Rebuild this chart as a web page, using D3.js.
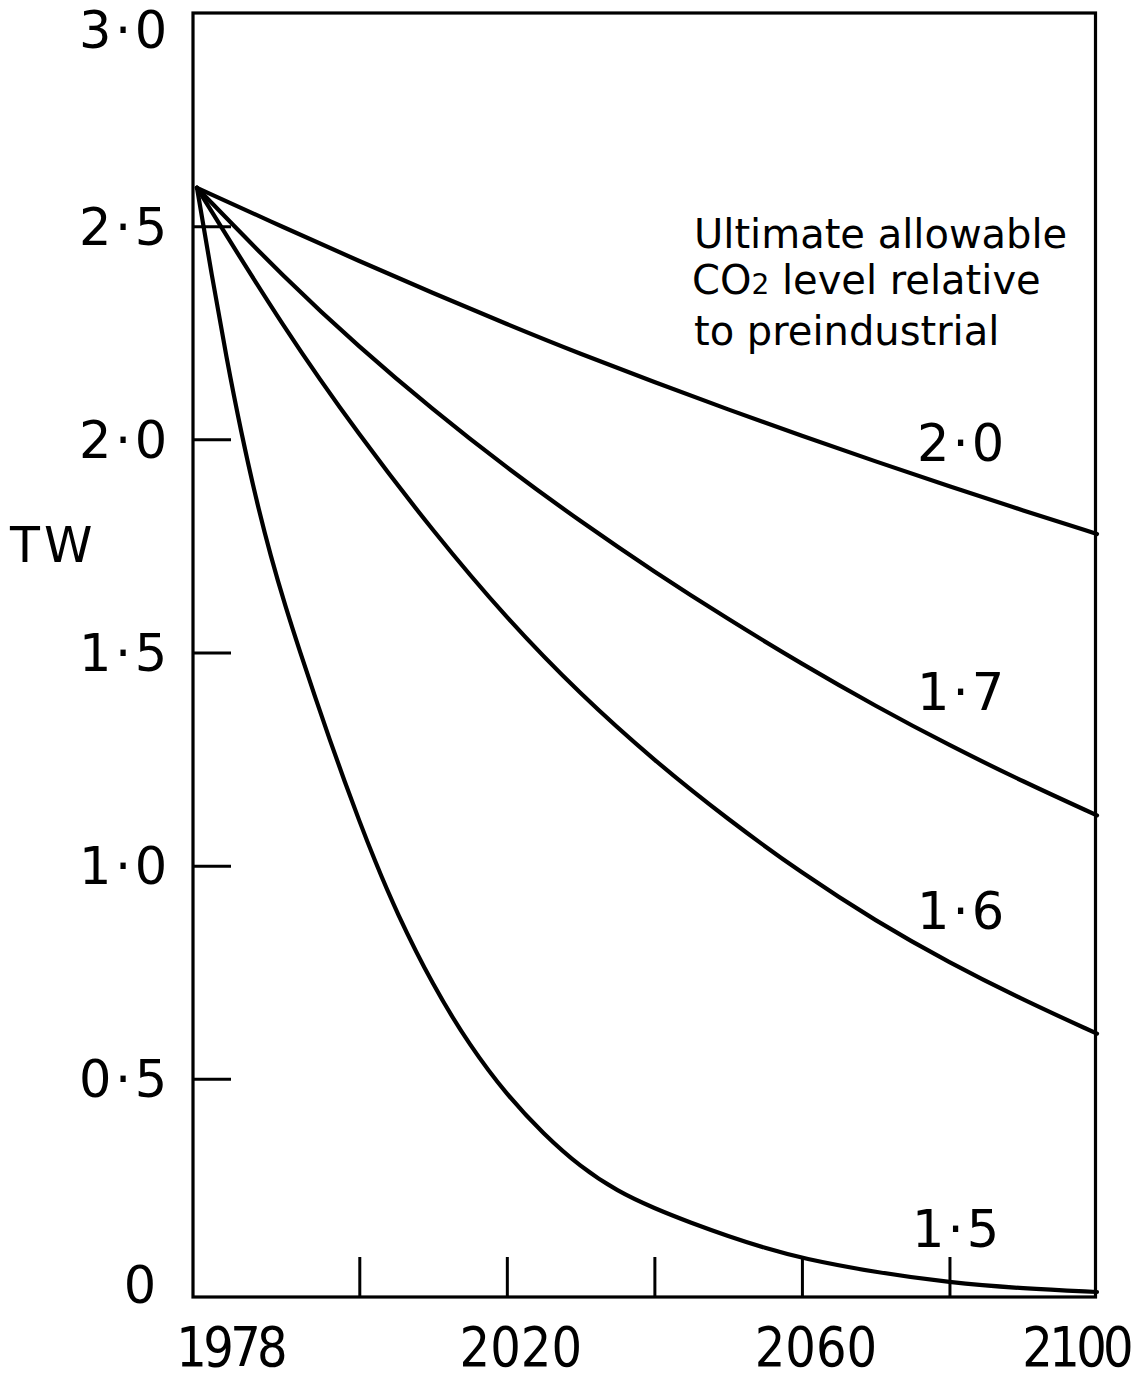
<!DOCTYPE html>
<html>
<head>
<meta charset="utf-8">
<script src="https://cdn.jsdelivr.net/npm/d3@7"></script>
<style>
  html, body { margin: 0; padding: 0; background: #fff; }
  svg { display: block; }
  text { font-family: "DejaVu Sans", "Liberation Sans", sans-serif; fill: #000; }
</style>
</head>
<body>
<svg id="chart" width="1147" height="1381"></svg>
<script>
// ---------------- data ----------------
const yTickValues = [0, 0.5, 1.0, 1.5, 2.0, 2.5, 3.0];
const yTickLabels = ["0", "0·5", "1·0", "1·5", "2·0", "2·5", "3·0"];
const xTickValues = [2000, 2020, 2040, 2060, 2080];
const xLabelYears = [1978, 2020, 2060, 2100];
const yAxisTitle = "TW";
const noteLine1 = "Ultimate allowable";
const noteLine2a = "CO";
const noteLine2sub = "2";
const noteLine2b = " level relative";
const noteLine3 = "to preindustrial";
const seriesNames = ["2·0", "1·7", "1·6", "1·5"];

const years20 = [1978, 1990, 2000, 2010, 2020, 2030, 2040, 2050, 2060, 2070, 2080, 2090, 2100];
const tw20    = [2.59, 2.495, 2.418, 2.343, 2.27, 2.20, 2.134, 2.07, 2.008, 1.948, 1.89, 1.833, 1.778];

const years17 = [1978, 1990, 2000, 2010, 2020, 2030, 2040, 2050, 2060, 2070, 2080, 2090, 2100];
const tw17    = [2.59, 2.376, 2.216, 2.069, 1.933, 1.807, 1.689, 1.578, 1.473, 1.374, 1.282, 1.197, 1.118];

const years16 = [1978, 1990, 2000, 2010, 2020, 2030, 2040, 2050, 2060, 2070, 2080, 2090, 2100];
const tw16    = [2.59, 2.254, 2.009, 1.784, 1.579, 1.401, 1.246, 1.108, 0.982, 0.870, 0.772, 0.685, 0.606];

const years15 = [1978, 1980, 1982, 1984, 1986, 1988, 1990, 1992, 1994, 1996, 1998, 2000, 2002, 2005, 2010, 2015, 2020, 2025, 2030, 2035, 2040, 2045, 2050, 2055, 2060, 2070, 2080, 2090, 2100];
const tw15    = [2.59, 2.385, 2.19, 2.015, 1.86, 1.725, 1.607, 1.50, 1.396, 1.295, 1.198, 1.105, 1.016, 0.892, 0.718, 0.577, 0.462, 0.37, 0.293, 0.236, 0.196, 0.162, 0.131, 0.103, 0.079, 0.046, 0.022, 0.008, 0.0];

// ---------------- layout ----------------
const svg = d3.select("#chart");
const frame = { left: 193, right: 1095.5, top: 13, bottom: 1297 };
const x = d3.scaleLinear().domain([1978, 2100]).range([197, 1097]);
const y = d3.scaleLinear().domain([0, 3]).range([1292, 13]);

const series = [
  { name: seriesNames[0], years: years20, vals: tw20, lift: 26 },
  { name: seriesNames[1], years: years17, vals: tw17, lift: 37 },
  { name: seriesNames[2], years: years16, vals: tw16, lift: 36 },
  { name: seriesNames[3], years: years15, vals: tw15, lift: 36 }
];

// y ticks (inside the frame)
const yAxis = svg.append("g")
  .attr("transform", `translate(${frame.left},0)`)
  .call(d3.axisRight(y).tickValues(yTickValues.filter(v => v > 0 && v < 3)).tickSize(38).tickFormat(""));
yAxis.select(".domain").remove();
yAxis.selectAll("line").attr("stroke", "#000").attr("stroke-width", 3);

// x ticks (inside the frame, pointing up)
const xAxis = svg.append("g")
  .attr("transform", `translate(0,${frame.bottom})`)
  .call(d3.axisTop(x).tickValues(xTickValues).tickSize(40).tickFormat(""));
xAxis.select(".domain").remove();
xAxis.selectAll("line").attr("stroke", "#000").attr("stroke-width", 3);

// frame
svg.append("rect")
  .attr("x", frame.left).attr("y", frame.top)
  .attr("width", frame.right - frame.left).attr("height", frame.bottom - frame.top)
  .attr("fill", "none").attr("stroke", "#000").attr("stroke-width", 3.2);

// y tick labels
svg.append("g").selectAll("text")
  .data(yTickValues)
  .join("text")
  .attr("x", (d, i) => yTickLabels[i].length === 1 ? 140 : 79)
  .attr("y", d => Math.max(29, Math.min(1284, y(d))) + 18.5)
  .attr("text-anchor", (d, i) => yTickLabels[i].length === 1 ? "middle" : "start")
  .attr("font-size", 51)
  .attr("letter-spacing", (d, i) => yTickLabels[i].length === 1 ? 0 : 3.5)
  .text((d, i) => yTickLabels[i]);

// x tick labels (condensed lettering, narrow "1")
const xl = svg.append("g").selectAll("g")
  .data(xLabelYears)
  .join("g")
  .attr("transform", (d, i) => {
    const n = xLabelYears.length;
    const nudge = i === 0 ? 35 : (i === n - 1 ? -19 : 14);
    return `translate(${x(d) + nudge},1366) scale(0.86,1)`;
  })
  .append("text")
  .attr("text-anchor", "middle")
  .attr("font-size", 56)
  .text(d => d);
xl.each(function(d) {
  const ones = String(d).split("").filter(c => c === "1").length;
  if (ones) {
    const w = this.getComputedTextLength();
    d3.select(this).attr("textLength", w - 13 * ones).attr("lengthAdjust", "spacing");
  }
});

// axis title
svg.append("text")
  .attr("x", 10).attr("y", 562)
  .attr("font-size", 49)
  .attr("letter-spacing", 4)
  .text(yAxisTitle);

// curves
const line = d3.line()
  .x(d => x(d[0]))
  .y(d => y(d[1]))
  .curve(d3.curveBasis);

svg.append("g").selectAll("path")
  .data(series)
  .join("path")
  .attr("d", s => line(s.years.map((yr, i) => [yr, s.vals[i]])))
  .attr("fill", "none")
  .attr("stroke", "#000")
  .attr("stroke-width", 4.2)
  .attr("stroke-linecap", "round")
  .attr("stroke-linejoin", "round");

// curve labels
function valueAt(years, vals, t) {
  const i = Math.max(1, d3.bisectLeft(years, t));
  const f = (t - years[i - 1]) / (years[i] - years[i - 1]);
  return vals[i - 1] + f * (vals[i] - vals[i - 1]);
}
const labelYear = 2080.5;
svg.append("g").selectAll("text")
  .data(series)
  .join("text")
  .attr("x", (s, i) => 917 - (i === 3 ? 5 : 0))
  .attr("y", s => y(valueAt(s.years, s.vals, labelYear)) - s.lift)
  .attr("font-size", 51)
  .attr("letter-spacing", 3)
  .text(s => s.name);

// annotation
const note = svg.append("g").attr("font-size", 40);
note.append("text").attr("x", 694).attr("y", 248).text(noteLine1);
const l2 = note.append("text").attr("x", 692).attr("y", 294);
l2.append("tspan").text(noteLine2a);
l2.append("tspan").attr("font-size", 28).text(noteLine2sub);
l2.append("tspan").text(noteLine2b);
note.append("text").attr("x", 694).attr("y", 345).text(noteLine3);
</script>
</body>
</html>
